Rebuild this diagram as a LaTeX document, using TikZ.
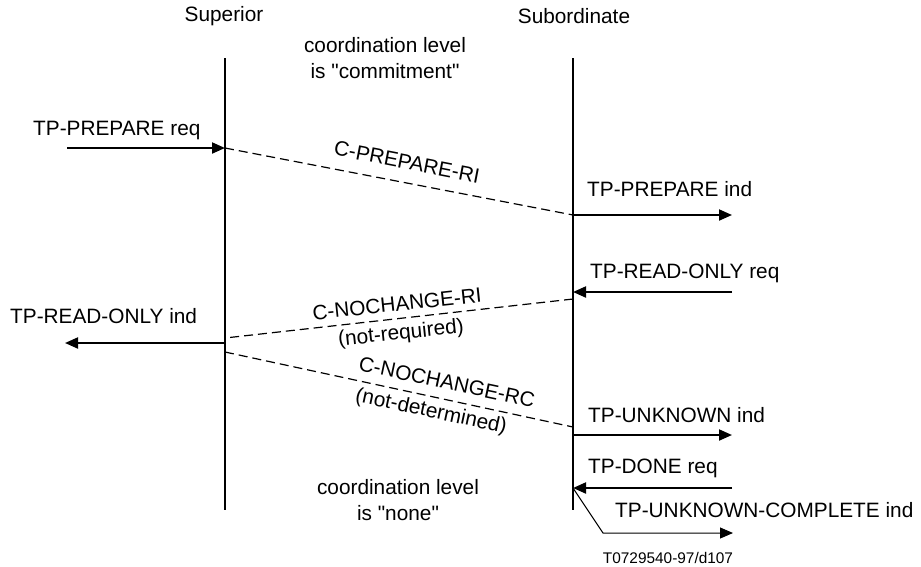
\documentclass[tikz,border=0pt]{standalone}
\usepackage{fontspec}
\setmainfont{Liberation Sans}[Ligatures=TeXOff]
\usetikzlibrary{arrows.meta,positioning}

\begin{document}
\begin{tikzpicture}[x=1pt, y=-1pt,
  txt/.style={inner sep=0pt, font=\fontsize{20.8}{26}\selectfont},
  prim/.style={txt, anchor=base west},
  life/.style={line width=2pt},
  call/.style={line width=2pt, -{Triangle[length=13pt,width=11pt]}},
  flow/.style={line width=1.2pt, dash pattern=on 9pt off 5pt}]
\useasboundingbox (0,0) rectangle (921,566);
% entities and lifelines
\node[txt] (sup) at (224,16) {Superior};
\node[txt] (sub) at (574,16) {Subordinate};
\node[txt, align=center] (lvlTop) at (385,58) {coordination level\\is "commitment"};
\node[txt, align=center] (lvlEnd) at (398,500) {coordination level\\is "none"};
\coordinate (supTop) at (225,58);
\coordinate (supBot) at (225,510);
\coordinate (subTop) at (573,58);
\coordinate (subBot) at (573,510);
\draw[life] (supTop) -- (supBot);
\draw[life] (subTop) -- (subBot);
% points on the lifelines
\coordinate (supA) at (225,148);
\coordinate (supB) at (225,338);
\coordinate (supC) at (225,343);
\coordinate (supD) at (225,352);
\coordinate (subA) at (573,215);
\coordinate (subB) at (573,292);
\coordinate (subC) at (573,299);
\coordinate (subD) at (573,427);
\coordinate (subE) at (573,435);
\coordinate (subF) at (573,488);
% free ends of the primitives
\coordinate (prepReq) at (67,148);
\coordinate (prepInd) at (732,215);
\coordinate (roReq) at (732,292);
\coordinate (roInd) at (65,343);
\coordinate (unkInd) at (732,435);
\coordinate (doneReq) at (732,488);
\coordinate (ucBend) at (603,533);
\coordinate (ucInd) at (733,533);
% primitive labels
\node[prim] (tPrepReq) at (33,135) {TP-PREPARE req};
\node[prim] (tPrepInd) at (587,196) {TP-PREPARE ind};
\node[prim] (tRoReq) at (590,278) {TP-READ-ONLY req};
\node[prim] (tRoInd) at (10,323) {TP-READ-ONLY ind};
\node[prim] (tUnkInd) at (588,422) {TP-UNKNOWN ind};
\node[prim] (tDoneReq) at (588,473) {TP-DONE req};
\node[prim] (tUcInd) at (615,517) {TP-UNKNOWN-COMPLETE ind};
% PDU labels
\node[txt, rotate=-11] (pPrep) at (407,162) {C-PREPARE-RI};
\node[txt, rotate=6] (pNcRi) at (397,304) {C-NOCHANGE-RI};
\node[txt, rotate=6] (pNcRiX) at (401,334) {(not-required)};
\node[txt, rotate=-12] (pNcRc) at (447,382) {C-NOCHANGE-RC};
\node[txt, rotate=-12] (pNcRcX) at (431,412) {(not-determined)};
\node[inner sep=0pt, anchor=base, font=\fontsize{15.4}{18}\selectfont] (fig) at (668,563) {T0729540-97/d107};
% primitives
\draw[call] (prepReq) -- (supA);
\draw[call] (subA) -- (prepInd);
\draw[call] (roReq) -- (subB);
\draw[call] (supC) -- (roInd);
\draw[call] (subE) -- (unkInd);
\draw[call] (doneReq) -- (subF);
\draw[line width=1pt, -{Triangle[length=13pt,width=11pt]}] (subF) -- (ucBend) -- (ucInd);
% PDUs
\draw[flow] (supA) -- (subA);
\draw[flow] (subC) -- (supB);
\draw[flow] (supD) -- (subD);
\end{tikzpicture}
\end{document}
